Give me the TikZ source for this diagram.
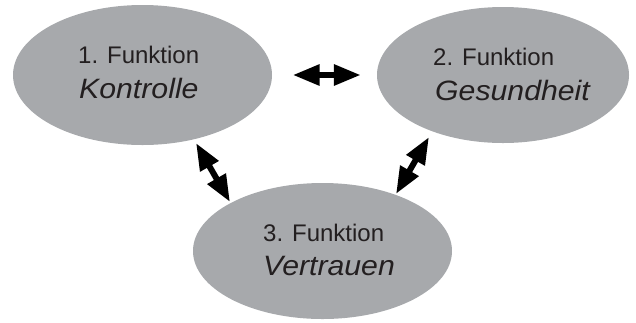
\documentclass[tikz,border=0pt]{standalone}
\usepackage{fontspec}
\setmainfont{Liberation Sans}
\newfontfamily\labitfont[FakeStretch=1.08]{Liberation Sans}
\usetikzlibrary{shapes.geometric,arrows.meta}
\definecolor{ellgray}{RGB}{167,169,172}
\definecolor{txtdark}{RGB}{35,31,32}
\tikzset{
  ell/.style={ellipse, fill=ellgray, draw=none, inner sep=0pt},
  lineone/.style={anchor=base west, inner sep=0pt, text=txtdark, font=\fontsize{24}{28}\selectfont},
  linetwo/.style={anchor=base west, inner sep=0pt, text=txtdark, font=\labitfont\itshape\fontsize{28}{32}\selectfont},
  dblarrow/.style={line width=6pt, {Triangle[length=27pt,width=20pt]}-{Triangle[length=27pt,width=20pt]}}
}
\begin{document}
\begin{tikzpicture}[x=1pt,y=-1pt]
\useasboundingbox (0,0) rectangle (636,322);
\node[ell, minimum width=259pt, minimum height=140pt] (e1) at (142.5,75) {};
\node[ell, minimum width=252pt, minimum height=136pt] (e2) at (503,75) {};
\node[ell, minimum width=259pt, minimum height=136pt] (e3) at (322.5,251) {};
\node[lineone] (t1a) at (78,63) {1. Funktion};
\node[linetwo] (t1b) at (79,98) {Kontrolle};
\node[lineone] (t2a) at (433,65) {2. Funktion};
\node[linetwo] (t2b) at (435,100) {Gesundheit};
\node[lineone] (t3a) at (263,241) {3. Funktion};
\node[linetwo] (t3b) at (263,275) {Vertrauen};
\coordinate (p1) at (196,143);
\coordinate (q1) at (230,202);
\coordinate (p2) at (429,137);
\coordinate (q2) at (396,194);
\draw[dblarrow, shorten <=20.5pt, shorten >=16pt] (e1) -- (e2);
\draw[dblarrow] (p1) -- (q1);
\draw[dblarrow] (p2) -- (q2);
\end{tikzpicture}
\end{document}
